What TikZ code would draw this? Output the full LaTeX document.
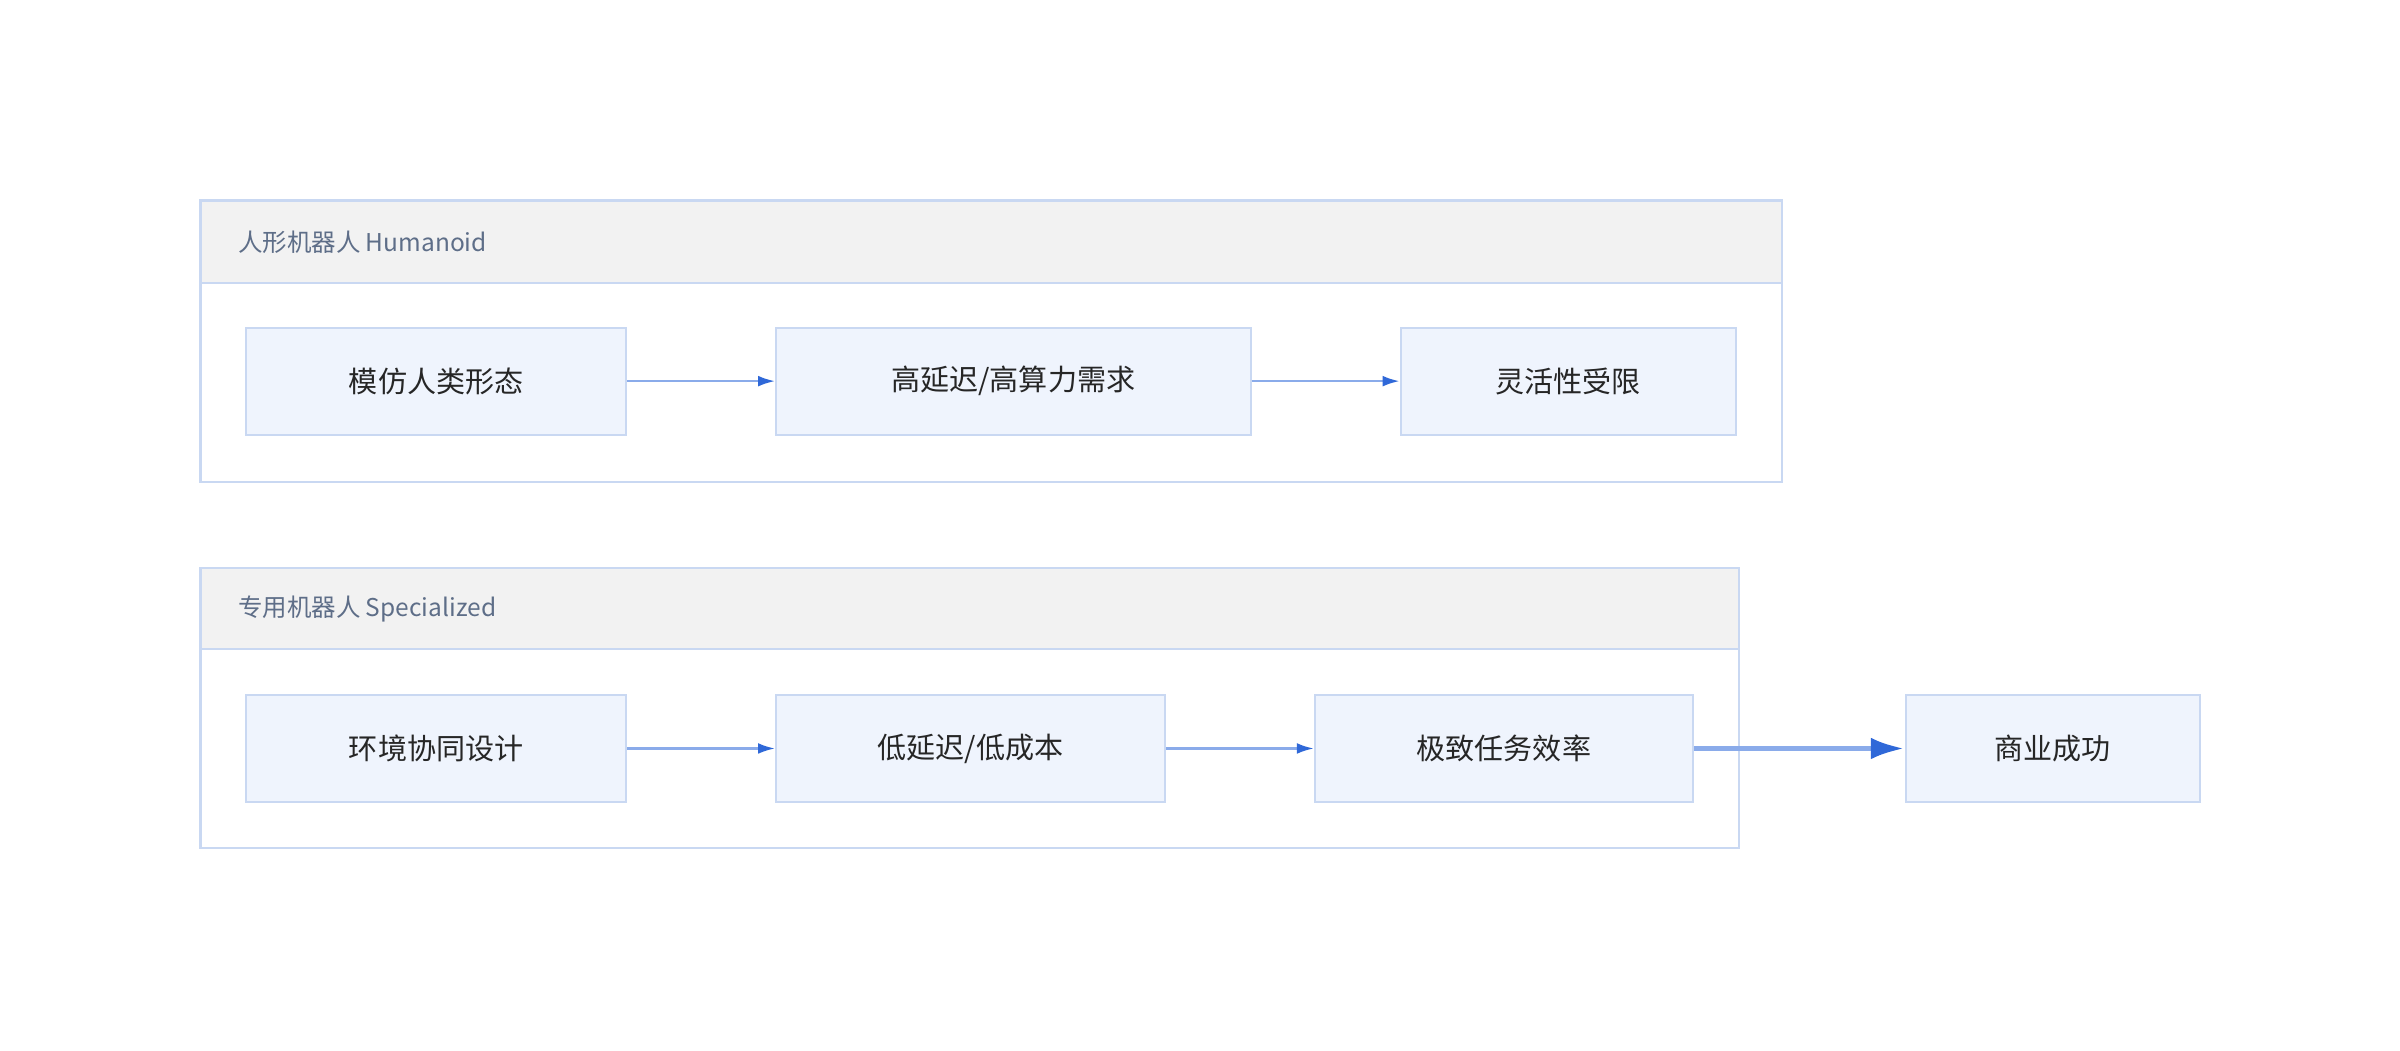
\documentclass[tikz,border=0pt]{standalone}
\usepackage{fontspec}
\setmainfont{Noto Sans CJK SC}
\usetikzlibrary{arrows.meta}
\definecolor{bd}{HTML}{C9D8F2}
\definecolor{fillb}{HTML}{EFF4FD}
\definecolor{hdr}{HTML}{F2F2F2}
\definecolor{htx}{HTML}{5E6E88}
\definecolor{ln}{HTML}{8AABEA}
\definecolor{hd}{HTML}{2F68D8}
\begin{document}
\begin{tikzpicture}[x=1pt,y=-1pt,
 box/.style={draw=bd,line width=1.3pt,fill=fillb,inner sep=0pt,font=\fontsize{19}{22}\selectfont,text=black!85},
 cont/.style={draw=bd,line width=1.5pt,fill=white},
 head/.style={draw=bd,line width=1.5pt,fill=hdr},
 htext/.style={anchor=west,text=htx,font=\fontsize{16}{19}\selectfont},
 arr/.style={draw=ln,line width=1.5pt,-{Latex[length=11pt,width=7pt,color=hd]}},
 big/.style={draw=ln,line width=3.5pt,-{Latex[length=22pt,width=14pt,color=hd]}}]
\useasboundingbox (0,0) rectangle (1568,686);
\draw[cont] (131,131) rectangle (1164,315);
\draw[head] (131,131) rectangle (1164,185);
\node[htext] (h1) at (152,158) {人形机器人 Humanoid};
\draw[cont] (131,371) rectangle (1136,554);
\draw[head] (131,371) rectangle (1136,424);
\node[htext] (h2) at (152,398) {专用机器人 Specialized};
\node[box,minimum width=248pt,minimum height=70pt] (a1) at (285,249) {模仿人类形态};
\node[box,minimum width=310pt,minimum height=70pt] (a2) at (662,249) {高延迟/高算力需求};
\node[box,minimum width=219pt,minimum height=70pt] (a3) at (1024.5,249) {灵活性受限};
\node[box,minimum width=248pt,minimum height=70pt] (b1) at (285,489) {环境协同设计};
\node[box,minimum width=254pt,minimum height=70pt] (b2) at (634,489) {低延迟/低成本};
\node[box,minimum width=247pt,minimum height=70pt] (b3) at (982.5,489) {极致任务效率};
\node[box,minimum width=192pt,minimum height=70pt] (b4) at (1341,489) {商业成功};
\draw[arr] (a1) -- (a2);
\draw[arr] (a2) -- (a3);
\draw[arr] (b1) -- (b2);
\draw[arr] (b2) -- (b3);
\draw[big] (b3) -- (b4);
\end{tikzpicture}
\end{document}
